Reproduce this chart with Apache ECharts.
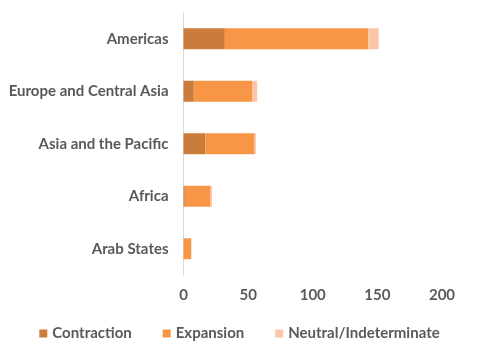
<!DOCTYPE html>
<html><head><meta charset="utf-8">
<script src="https://cdn.jsdelivr.net/npm/echarts@6/dist/echarts.min.js"></script>
<style>html,body{margin:0;padding:0;background:#fff}#c{width:479px;height:359px}</style>
</head><body><div id="c"></div>
<script>
const categories = ['Arab States', 'Africa', 'Asia and the Pacific', 'Europe and Central Asia', 'Americas'];
const contraction = [0, 1, 17, 8, 32];
const expansion = [6, 20, 38, 45, 111];
const neutral = [0, 1, 1, 4, 8];
const xTicks = [0, 50, 100, 150, 200];

const font = 'Lato, "Open Sans", sans-serif';
const chart = echarts.init(document.getElementById('c'));
const mk = (name, data, color) => ({
  name, type: 'bar', stack: 't', data, barWidth: '40%',
  itemStyle: { color }
});
chart.setOption({
  animation: false,
  grid: { left: 183.5, right: 37, top: 12.5, bottom: 84, containLabel: false },
  xAxis: {
    type: 'value', min: xTicks[0], max: xTicks[xTicks.length - 1], interval: 50,
    splitLine: { show: false }, axisLine: { show: false }, axisTick: { show: false },
    axisLabel: { color: '#595959', fontFamily: font, fontWeight: 'bold', fontSize: 15, margin: 13 }
  },
  yAxis: {
    type: 'category', data: categories,
    axisLine: { show: true, lineStyle: { color: '#d9d9d9', width: 1 } },
    axisTick: { show: false },
    axisLabel: { color: '#595959', fontFamily: font, fontWeight: 'bold', fontSize: 15, margin: 15 }
  },
  legend: {
    bottom: 13, left: 'center', itemWidth: 8, itemHeight: 8, itemGap: 31,
    icon: 'rect',
    textStyle: { color: '#595959', fontFamily: font, fontWeight: 'bold', fontSize: 15, padding: [0, 0, 0, 0] },
    data: ['Contraction', 'Expansion', 'Neutral/Indeterminate']
  },
  series: [
    mk('Contraction', contraction, '#CC7C3A'),
    mk('Expansion', expansion, '#F79646'),
    mk('Neutral/Indeterminate', neutral, '#FBC5A8')
  ]
});
</script></body></html>
